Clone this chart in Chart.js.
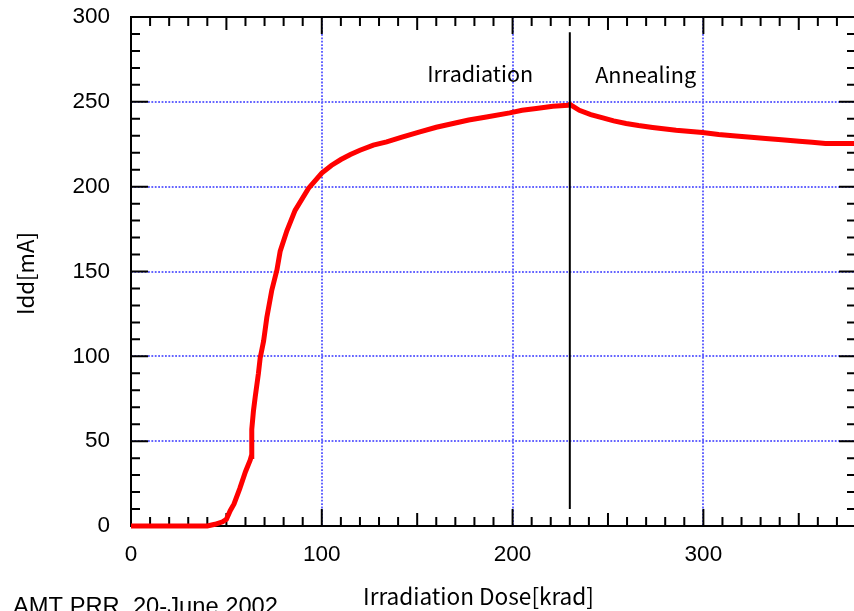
<!DOCTYPE html>
<html><head><meta charset="utf-8">
<script src="https://cdn.jsdelivr.net/npm/chart.js@4"></script>
<style>
html,body{margin:0;padding:0;background:#fff;overflow:hidden;width:854px;height:611px}
#wrap{width:860px;height:611px}
</style></head>
<body><div id="wrap"><canvas id="c" width="860" height="611"></canvas></div>
<script>
// ---- data ----
const doseKrad = [0, 40, 44, 48, 50, 52, 54, 57, 60, 62.5, 63, 63.3, 64.2, 65.1, 66.8, 67.7, 69.5, 71.2, 73.8, 76.5, 78.2, 81.7, 86, 93, 100, 105, 110, 115, 120, 127, 134, 142, 151.4, 160, 168.8, 177, 186.3, 198.5, 205, 212.4, 221.1, 229, 230,
                  235, 241, 247.3, 253, 259.5, 266, 273.4, 285.7, 299.6, 308, 317, 325, 332.7, 341, 350.2, 357, 364, 372, 380];
const iddMilliAmp = [0, 0, 1, 2.5, 4, 9, 13, 22, 32, 39, 41, 57, 68, 76, 90, 99, 109, 123, 139, 151, 162, 174, 186, 199, 208, 212.5, 216, 219, 221.5, 224.5, 226.4, 229.2, 232.3, 235, 237.2, 239.3, 241.1, 243.5, 245, 246.1, 247.4, 248, 248.5,
                  245, 242.5, 240.5, 238.8, 237.2, 236, 234.9, 233.3, 231.9, 230.8, 229.9, 229.1, 228.4, 227.6, 226.8, 226.2, 225.4, 225.4, 225.4];
const xTickStep = 100, xMinorStep = 10, xMax = 380;
const yTickStep = 50, yMinorStep = 10, yMax = 300;
const annealStartDose = 230;           // vertical separator
const separatorRange = [10, 291];      // mA extent of separator
const phaseLabels = ['Irradiation', 'Annealing'];
const phaseLabelDose = [183, 243.3];   // centre of first, left of second
const phaseLabelIdd = 261.5;
const xTitle = 'Irradiation Dose[krad]';
const yTitle = 'Idd[mA]';
const footnote = 'AMT PRR, 20-June 2002';

const points = doseKrad.map((d, i) => ({x: d, y: iddMilliAmp[i]}));
const jpFont = '"Noto Sans CJK JP", "Noto Sans", sans-serif';
const numFont = '"Liberation Sans", Arial, sans-serif';

function fitSize(ctx, text, family, target) {
  ctx.font = '100px ' + family;
  return 100 * target / ctx.measureText(text).width;
}

const framePlugin = {
  id: 'frame',
  beforeDatasetsDraw(chart) {
    const {ctx, chartArea: a, scales: {x, y}} = chart;
    ctx.save();
    // dotted grid
    ctx.strokeStyle = '#6464ff';
    ctx.lineWidth = 2;
    ctx.setLineDash([1.8, 1.6]);
    for (let v = xTickStep; v < xMax; v += xTickStep) {
      const p = Math.round(x.getPixelForValue(v));
      ctx.beginPath(); ctx.moveTo(p, a.top); ctx.lineTo(p, a.bottom); ctx.stroke();
    }
    for (let v = yTickStep; v < yMax; v += yTickStep) {
      const p = Math.round(y.getPixelForValue(v));
      ctx.beginPath(); ctx.moveTo(a.left, p); ctx.lineTo(a.right, p); ctx.stroke();
    }
    ctx.setLineDash([]);
    // frame
    ctx.strokeStyle = '#000';
    ctx.lineWidth = 2;
    ctx.strokeRect(a.left, a.top, a.right - a.left, a.bottom - a.top);
    // inward tick marks
    ctx.beginPath();
    for (let v = 0; v <= xMax; v += xMinorStep) {
      const p = x.getPixelForValue(v);
      const len = v % xTickStep === 0 ? 17 : (v % 50 === 0 ? 13 : 9);
      ctx.moveTo(p, a.bottom); ctx.lineTo(p, a.bottom - len);
      ctx.moveTo(p, a.top); ctx.lineTo(p, a.top + len);
    }
    for (let v = 0; v <= yMax; v += yMinorStep) {
      const p = y.getPixelForValue(v);
      const len = v % yTickStep === 0 ? 17 : 9;
      ctx.moveTo(a.left, p); ctx.lineTo(a.left + len, p);
      ctx.moveTo(a.right, p); ctx.lineTo(a.right - len, p);
    }
    ctx.stroke();
    ctx.restore();
  },
  afterDatasetsDraw(chart) {
    const {ctx, scales: {x, y}} = chart;
    ctx.save();
    // separator line
    ctx.strokeStyle = '#000';
    ctx.lineWidth = 2;
    const sx = x.getPixelForValue(annealStartDose);
    ctx.beginPath();
    ctx.moveTo(sx, y.getPixelForValue(separatorRange[0]));
    ctx.lineTo(sx, y.getPixelForValue(separatorRange[1]));
    ctx.stroke();
    ctx.fillStyle = '#000';
    ctx.textBaseline = 'alphabetic';
    // phase labels
    let s = fitSize(ctx, phaseLabels[0], jpFont, 106);
    ctx.font = s + 'px ' + jpFont; ctx.textAlign = 'center';
    ctx.fillText(phaseLabels[0], x.getPixelForValue(phaseLabelDose[0]), y.getPixelForValue(phaseLabelIdd));
    s = fitSize(ctx, phaseLabels[1], jpFont, 101);
    ctx.font = s + 'px ' + jpFont; ctx.textAlign = 'left';
    ctx.fillText(phaseLabels[1], x.getPixelForValue(phaseLabelDose[1]), y.getPixelForValue(phaseLabelIdd) + 1);
    // axis titles
    s = fitSize(ctx, xTitle, jpFont, 231);
    ctx.font = s + 'px ' + jpFont; ctx.textAlign = 'center';
    ctx.fillText(xTitle, 478.5, 605);
    s = fitSize(ctx, yTitle, jpFont, 83);
    ctx.font = s + 'px ' + jpFont;
    ctx.translate(33.5, 273.5); ctx.rotate(-Math.PI / 2);
    ctx.fillText(yTitle, 0, 0);
    ctx.setTransform(1, 0, 0, 1, 0, 0);
    // footnote
    s = fitSize(ctx, footnote, numFont, 265);
    ctx.font = s + 'px ' + numFont; ctx.textAlign = 'left';
    ctx.fillText(footnote, 13, 614);
    ctx.restore();
  }
};

new Chart(document.getElementById('c'), {
  type: 'scatter',
  data: {datasets: [{
    data: points, showLine: true, borderColor: '#ff0000', borderWidth: 5,
    pointRadius: 0, tension: 0, clip: false, fill: false
  }]},
  options: {
    responsive: false, animation: false, devicePixelRatio: 1,
    layout: {padding: {top: 17, right: 4, left: 0, bottom: 0}},
    plugins: {legend: {display: false}, tooltip: {enabled: false}},
    scales: {
      x: {
        type: 'linear', min: 0, max: xMax,
        afterFit: s => { s.height = 85; s.paddingLeft = 0; s.paddingRight = 0; },
        afterBuildTicks: s => { s.ticks = s.ticks.filter(t => t.value % xTickStep === 0); },
        grid: {display: false, drawTicks: false}, border: {display: false},
        ticks: {stepSize: xTickStep, color: '#000', padding: 15, maxRotation: 0, autoSkip: false,
                font: {family: numFont, size: 22.5}}
      },
      y: {
        min: 0, max: yMax,
        afterFit: s => { s.width = 131; s.paddingTop = 0; s.paddingBottom = 0; },
        grid: {display: false, drawTicks: false}, border: {display: false},
        ticks: {stepSize: yTickStep, color: '#000', padding: 21,
                font: {family: numFont, size: 22.5}}
      }
    }
  },
  plugins: [framePlugin]
});
</script>
</body></html>
